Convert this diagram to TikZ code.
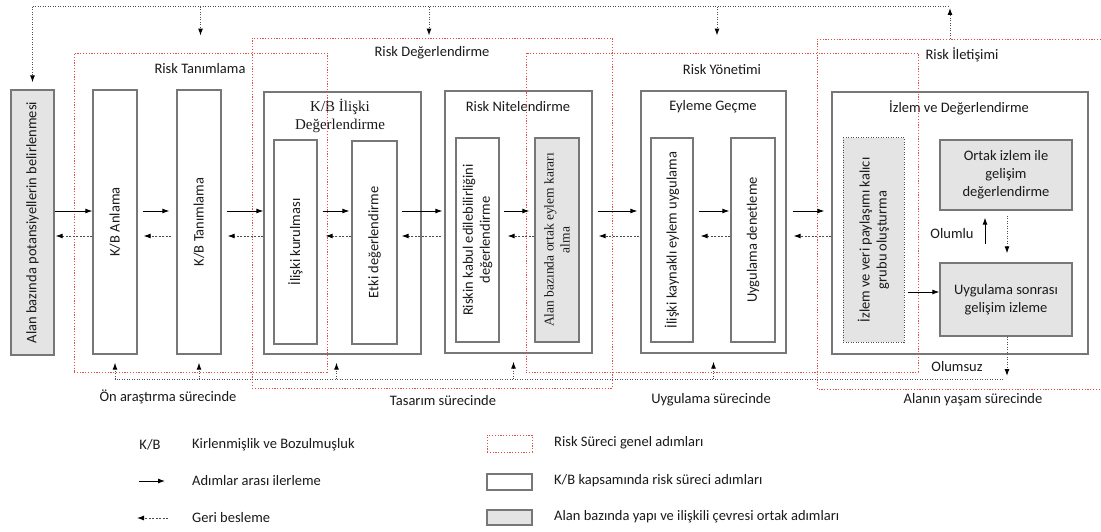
\documentclass[tikz,border=0pt]{standalone}
\usepackage{fontspec}
\setmainfont{Carlito}
\newfontfamily\serifpart{Liberation Serif}
\usetikzlibrary{arrows.meta}

\definecolor{boxgray}{HTML}{777777}
\definecolor{fillgray}{HTML}{E4E4E4}
\definecolor{riskred}{HTML}{E0504A}
\definecolor{txt}{HTML}{1A1A1A}
\definecolor{loopgray}{HTML}{4D4D4D}

\tikzset{
  stepbox/.style={draw=boxgray, line width=1.3pt, fill=white, inner sep=0pt},
  commonbox/.style={stepbox, fill=fillgray},
  riskarea/.style={draw=riskred, line width=0.9pt, dash pattern=on 1.2pt off 1.6pt, inner sep=0pt},
  vtext/.style={label={[rotate=90, align=center, text=txt, font=\fontsize{14.5}{17}\selectfont]center:#1}},
  title/.style={text=txt, font=\fontsize{14.5}{17}\selectfont, inner sep=1pt},
  fwdarrow/.style={-{Latex[black,length=7pt,width=5pt]}, line width=0.9pt},
  backarrow/.style={-{Latex[black,length=7pt,width=5pt]}, line width=0.9pt, draw=loopgray, dash pattern=on 2pt off 1.5pt},
  loopline/.style={line width=1pt, draw=loopgray, dash pattern=on 1pt off 1.5pt},
  looparrow/.style={loopline, -{Latex[black,length=7pt,width=5pt]}}
}

\begin{document}
\begin{tikzpicture}[x=1pt,y=-1pt]
\useasboundingbox[fill=white] (0,0) rectangle (1101,532);

% steps
\node[commonbox, minimum width=43pt, minimum height=265pt, vtext={Alan bazında potansiyellerin belirlenmesi}] (potb) at (32.5,222.5) {};
\node[stepbox, minimum width=44pt, minimum height=264pt, vtext={K/B Anlama}] (kba) at (115,222) {};
\node[stepbox, minimum width=44pt, minimum height=264pt, vtext={K/B Tanımlama}] (kbt) at (199,222) {};

\node[stepbox, minimum width=157pt, minimum height=262pt] (iliski) at (342.5,223) {};
\node[title, align=center, font=\serifpart\fontsize{15}{18}\selectfont] at (340,116) {K/B İlişki\\Değerlendirme};
\node[stepbox, minimum width=43pt, minimum height=204pt, vtext={İlişki kurulması}] (kurul) at (295.5,242) {};
\node[stepbox, minimum width=45pt, minimum height=203pt, vtext={Etki değerlendirme}] (etki) at (374.5,242.5) {};

\node[stepbox, minimum width=147pt, minimum height=262pt] (nitel) at (518.5,222) {};
\node[title] at (518,107) {Risk Nitelendirme};
\node[stepbox, minimum width=43pt, minimum height=204pt, vtext={Riskin kabul edilebilirliğini\\değerlendirme}] (kabul) at (477.5,240) {};
\node[commonbox, minimum width=44pt, minimum height=204pt,
  label={[rotate=90, align=center, text=txt, font=\serifpart\fontsize{13.5}{16}\selectfont]center:Alan bazında ortak eylem kararı\\alma}] (karar) at (557,240) {};

\node[stepbox, minimum width=145pt, minimum height=262pt] (eylem) at (713.5,222) {};
\node[title] at (713,107) {Eyleme Geçme};
\node[stepbox, minimum width=42pt, minimum height=204pt, vtext={İlişki kaynaklı eylem uygulama}] (kaynak) at (672,240) {};
\node[stepbox, minimum width=44pt, minimum height=204pt, vtext={Uygulama denetleme}] (denet) at (753,240) {};

\node[stepbox, minimum width=256pt, minimum height=262pt] (izlem) at (960,223) {};
\node[title] at (959,108) {İzlem ve Değerlendirme};
\node[commonbox, draw=loopgray, line width=1pt, dash pattern=on 1pt off 1.5pt, minimum width=61pt, minimum height=204pt,
  vtext={İzlem ve veri paylaşımı kalıcı\\grubu oluşturma}] (grup) at (873.5,240) {};
\node[commonbox, align=center, text=txt, font=\fontsize{14.5}{18}\selectfont, minimum width=132pt, minimum height=70pt] (ortak) at (1006,175) {Ortak izlem ile\\gelişim\\değerlendirme};
\node[commonbox, align=center, text=txt, font=\fontsize{14.5}{18}\selectfont, minimum width=132pt, minimum height=73pt] (sonra) at (1006,299.5) {Uygulama sonrası\\gelişim izleme};

% risk process areas, over the steps
\node[riskarea, minimum width=253pt, minimum height=319pt] (tanim) at (200.5,212.5) {};
\node[riskarea, minimum width=360pt, minimum height=350pt] (degerl) at (432,213) {};
\node[riskarea, minimum width=392pt, minimum height=319pt] (yonet) at (722,212.5) {};
\draw[riskarea] (1101,39) -- (817,39) -- (817,389) -- (1101,389);
\coordinate (iletup) at (950,39);

\node[title] at (200,69) {Risk Tanımlama};
\node[title] at (432,53) {Risk Değerlendirme};
\node[title] at (722,70) {Risk Yönetimi};
\node[title] at (962,55) {Risk İletişimi};

% forward and feedback between steps
\coordinate (fw) at (0,211);
\coordinate (bk) at (0,236);
\foreach \a/\b/\s/\e in {potb/kba/0/0, kba/kbt/5/7, kbt/iliski/5/0, kurul/etki/5/2, etki/nitel/4/2,
                          kabul/karar/4/5, nitel/eylem/5/3, kaynak/denet/5/1, eylem/izlem/6/7}
  \draw[fwdarrow, shorten <=\s pt, shorten >=\e pt] (\a.east |- fw) -- (\b.west |- fw);
\foreach \a/\b/\s/\e in {kba/potb/0/1, kbt/kba/5/6, iliski/kbt/0/6, etki/kurul/0/8, nitel/etki/3/4,
                          karar/kabul/0/8, eylem/nitel/1/6, denet/kaynak/0/7, izlem/eylem/0/7}
  \draw[backarrow, shorten <=\s pt, shorten >=\e pt] (\a.west |- bk) -- (\b.east |- bk);

% inside monitoring
\coordinate (sonrain) at ([yshift=7.5pt]sonra.west);
\draw[fwdarrow, shorten <=3pt] (grup.east |- sonrain) -- (sonrain);
\draw[fwdarrow, shorten <=18pt, shorten >=7pt] ([xshift=-21pt]sonra.north) -- ([xshift=-21pt]ortak.south);
\draw[looparrow, shorten <=5pt, shorten >=9pt] ([xshift=1pt]ortak.south) -- ([xshift=1pt]sonra.north);
\node[title] at (952,234) {Olumlu};
\node[title] at (957,367) {Olumsuz};

% top feedback loop
\coordinate (toprow) at (0,7);
\draw[loopline] (potb.north |- toprow) -- (iletup |- toprow);
\draw[looparrow, shorten >=1pt] (iletup) -- (iletup |- toprow);
\draw[looparrow, shorten >=7pt] (potb.north |- toprow) -- (potb.north);
\draw[looparrow, shorten >=17pt] (tanim.north |- toprow) -- (tanim.north);
\draw[looparrow, shorten >=2pt] ([xshift=-3pt]degerl.north |- toprow) -- ([xshift=-3pt]degerl.north);
\draw[looparrow, shorten >=17pt] ([xshift=-5pt]yonet.north |- toprow) -- ([xshift=-5pt]yonet.north);

% bottom feedback loop
\coordinate (botrow) at (0,379);
\draw[looparrow, shorten >=3pt] ([xshift=1pt]sonra.south) -- ([xshift=1pt]sonra.south |- botrow);
\draw[loopline] ([xshift=-3pt]sonra.south |- botrow) -- (kba.south |- botrow);
\foreach \n/\dx in {kba/0, kbt/0, iliski/-6, nitel/-5, eylem/0}
  \draw[looparrow, shorten >=8pt] ([xshift=\dx pt]\n.south |- botrow) -- ([xshift=\dx pt]\n.south);

\node[title] at (168,397) {Ön araştırma sürecinde};
\node[title] at (443,401) {Tasarım sürecinde};
\node[title] at (711,400) {Uygulama sürecinde};
\node[title] at (973,400) {Alanın yaşam sürecinde};

% legend
\node[title] (kbkey) at (150,445) {K/B};
\node[title, anchor=west] (kbtext) at (191,445) {Kirlenmişlik ve Bozulmuşluk};
\coordinate (fwa) at (139,481);
\coordinate (fwb) at (165,481);
\draw[fwdarrow] (fwa) -- (fwb);
\node[title, anchor=west] (fwtext) at (191,481) {Adımlar arası ilerleme};
\coordinate (bka) at (168,518);
\coordinate (bkb) at (137,518);
\draw[backarrow] (bka) -- (bkb);
\node[title, anchor=west] (bktext) at (191,518) {Geri besleme};

\node[riskarea, minimum width=45pt, minimum height=17pt] (keyrisk) at (509.5,443.5) {};
\node[title, anchor=west] at (553,443) {Risk Süreci genel adımları};
\node[stepbox, minimum width=45pt, minimum height=16pt] (keystep) at (509.5,482) {};
\node[title, anchor=west] at (553,481) {K/B kapsamında risk süreci adımları};
\node[commonbox, minimum width=45pt, minimum height=15pt] (keycommon) at (509.5,517.5) {};
\node[title, anchor=west] at (553,517) {Alan bazında yapı ve ilişkili çevresi ortak adımları};
\end{tikzpicture}
\end{document}
